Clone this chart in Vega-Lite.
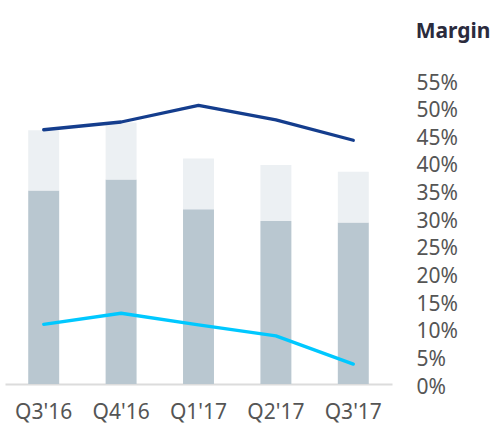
{
  "$schema": "https://vega.github.io/schema/vega-lite/v6.json",
  "width": 387,
  "height": 304,
  "autosize": {"type": "none"},
  "padding": {"left": 5, "top": 80, "right": 100, "bottom": 40},
  "background": "white",
  "config": {"view": {"stroke": null}, "font": "Noto Sans"},
  "title": {"text": "Margin", "anchor": "end", "fontSize": 21, "fontWeight": "bold", "color": "#2b2b3d", "font": "Noto Sans", "dx": 33, "offset": 30},
  "datasets": {
    "bars": [
      {"quarter": "Q3'16", "segment": "a", "order": 1, "value": 35.0},
      {"quarter": "Q3'16", "segment": "b", "order": 2, "value": 10.9},
      {"quarter": "Q4'16", "segment": "a", "order": 1, "value": 37.0},
      {"quarter": "Q4'16", "segment": "b", "order": 2, "value": 10.3},
      {"quarter": "Q1'17", "segment": "a", "order": 1, "value": 31.6},
      {"quarter": "Q1'17", "segment": "b", "order": 2, "value": 9.2},
      {"quarter": "Q2'17", "segment": "a", "order": 1, "value": 29.5},
      {"quarter": "Q2'17", "segment": "b", "order": 2, "value": 10.1},
      {"quarter": "Q3'17", "segment": "a", "order": 1, "value": 29.2},
      {"quarter": "Q3'17", "segment": "b", "order": 2, "value": 9.2}
    ],
    "lines": [
      {"quarter": "Q3'16", "series": "gross", "value": 46.0},
      {"quarter": "Q4'16", "series": "gross", "value": 47.4},
      {"quarter": "Q1'17", "series": "gross", "value": 50.4},
      {"quarter": "Q2'17", "series": "gross", "value": 47.8},
      {"quarter": "Q3'17", "series": "gross", "value": 44.1},
      {"quarter": "Q3'16", "series": "operating", "value": 10.8},
      {"quarter": "Q4'16", "series": "operating", "value": 12.8},
      {"quarter": "Q1'17", "series": "operating", "value": 10.7},
      {"quarter": "Q2'17", "series": "operating", "value": 8.7},
      {"quarter": "Q3'17", "series": "operating", "value": 3.6}
    ]
  },
  "encoding": {
    "x": {
      "field": "quarter",
      "type": "nominal",
      "sort": null,
      "scale": {"paddingInner": 0.6, "paddingOuter": 0.3},
      "axis": {"title": null, "labelAngle": 0, "ticks": false, "domainColor": "#dcdcdc", "domainWidth": 2, "labelFontSize": 21, "labelColor": "#555555", "labelPadding": 17, "labelFont": "Noto Sans"}
    },
    "y": {
      "field": "value",
      "type": "quantitative",
      "scale": {"domain": [0, 55], "nice": false},
      "axis": {"orient": "right", "title": null, "values": [0, 5, 10, 15, 20, 25, 30, 35, 40, 45, 50, 55], "labelExpr": "datum.value + '%'", "labelOverlap": false, "labelBound": false, "labelFlush": false, "labelOffset": 3, "domain": false, "ticks": false, "grid": false, "labelPadding": 24, "labelFontSize": 21, "labelColor": "#555555", "labelFont": "Noto Sans"}
    }
  },
  "layer": [
    {
      "data": {"name": "bars"},
      "mark": {"type": "bar"},
      "encoding": {
        "y": {
          "field": "value",
          "type": "quantitative",
          "stack": "zero",
          "scale": {"domain": [0, 55], "nice": false},
          "axis": {"orient": "right", "title": null, "values": [0, 5, 10, 15, 20, 25, 30, 35, 40, 45, 50, 55], "labelExpr": "datum.value + '%'", "labelOverlap": false, "labelBound": false, "labelFlush": false, "labelOffset": 3, "domain": false, "ticks": false, "grid": false, "labelPadding": 24, "labelFontSize": 21, "labelColor": "#555555", "labelFont": "Noto Sans"}
        },
        "color": {"field": "segment", "type": "nominal", "scale": {"domain": ["a", "b"], "range": ["#b9c7d0", "#ecf0f3"]}, "legend": null},
        "order": {"field": "order", "type": "quantitative"}
      }
    },
    {
      "data": {"name": "lines"},
      "mark": {"type": "line", "strokeWidth": 3.3, "strokeCap": "round", "strokeJoin": "round"},
      "encoding": {
        "detail": {"field": "series"},
        "stroke": {"field": "series", "type": "nominal", "scale": {"domain": ["gross", "operating"], "range": ["#143d8d", "#00c8ff"]}, "legend": null}
      }
    }
  ],
  "resolve": {"scale": {"color": "independent"}}
}
